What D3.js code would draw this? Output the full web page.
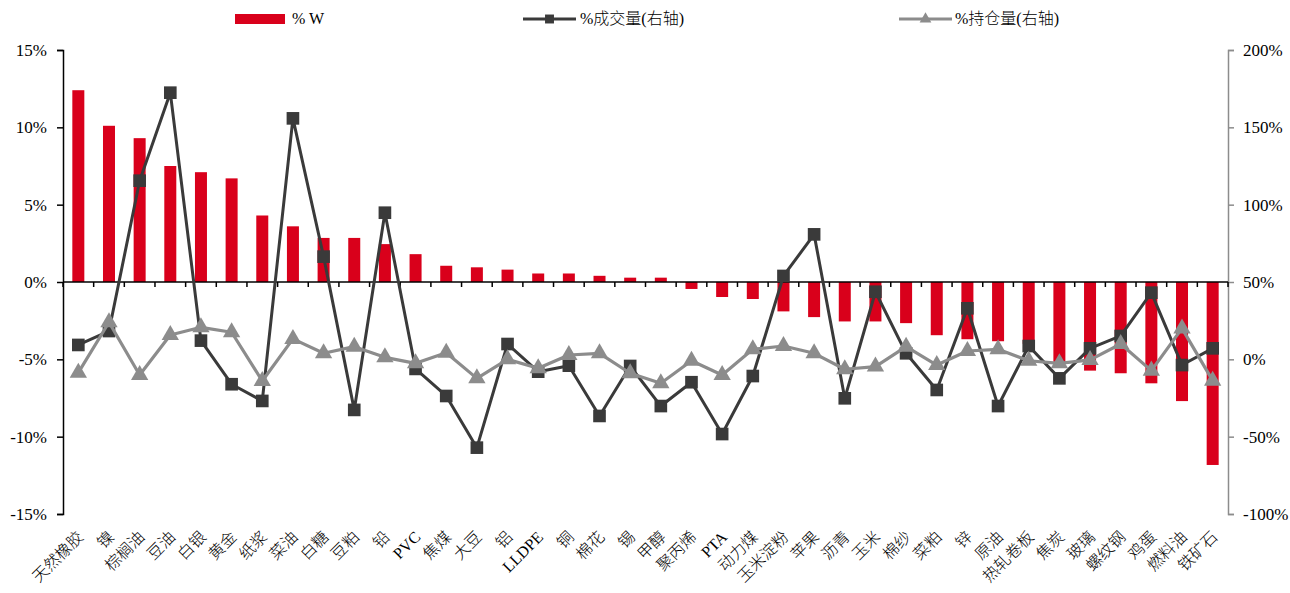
<!DOCTYPE html>
<html>
<head>
<meta charset="utf-8">
<script src="https://cdn.jsdelivr.net/npm/d3@7"></script>
<style>
  html, body { margin: 0; padding: 0; background: #fff; }
  svg { display: block; }
  text { font-family: "Liberation Serif", "Noto Sans CJK SC", serif; fill: #000; }
</style>
</head>
<body>
<svg id="chart" width="1290" height="593"></svg>
<script>
// Commodity names along the x axis
const categories = ["天然橡胶","镍","棕榈油","豆油","白银","黄金","纸浆","菜油","白糖","豆粕","铅","PVC","焦煤","大豆","铝","LLDPE","铜","棉花","锡","甲醇","聚丙烯","PTA","动力煤","玉米淀粉","苹果","沥青","玉米","棉纱","菜粕","锌","原油","热轧卷板","焦炭","玻璃","螺纹钢","鸡蛋","燃料油","铁矿石"];

// %W (left axis, percent)
const weightChange = [12.4,10.1,9.3,7.5,7.1,6.7,4.3,3.6,2.85,2.85,2.45,1.8,1.05,0.95,0.8,0.55,0.55,0.4,0.28,0.28,-0.45,-0.97,-1.1,-1.9,-2.27,-2.55,-2.55,-2.66,-3.44,-3.7,-3.83,-4.0,-5.2,-5.73,-5.9,-6.55,-7.7,-11.83];

// %成交量 (right axis, percent)
const volumeChange = [9.3,18.3,115.5,172.4,12.1,-16.1,-26.9,155.8,66.4,-32.7,94.8,-6.2,-23.7,-57.1,9.9,-8,-4.1,-36.6,-4.3,-30.2,-14.8,-48.3,-10.8,53.9,80.8,-25.2,43.7,3.9,-19.8,33,-30.2,8.6,-12.3,7.1,15.1,43.1,-3.7,7.1];

// %持仓量 (right axis, percent)
const openInterestChange = [-8.6,24,-10.1,15.7,20.7,17.5,-14,13.2,3.9,8.2,1.3,-2.6,4.3,-12.3,0,-5.8,2.8,3.9,-9,-15.5,-0.9,-10.1,6.5,8.6,3.9,-6.4,-4.7,8.2,-3.7,5.4,6.5,-0.9,-2.6,-0.4,9.9,-7.3,20,-13.8];

// Axis ticks
const leftTicks = [-15,-10,-5,0,5,10,15];
const rightTicks = [-100,-50,0,50,100,150,200];

// Legend entries
const legendLabels = ["% W","%成交量(右轴)","%持仓量(右轴)"];

const svg = d3.select("#chart");
const plotLeft = 63, plotRight = 1228, plotTop = 50, plotBottom = 514;

const x = d3.scalePoint().domain(categories).range([plotLeft, plotRight]).padding(0.5);
const step = x.step();
const yL = d3.scaleLinear().domain([-15, 15]).range([plotBottom, plotTop]);
const yR = d3.scaleLinear().domain([-100, 200]).range([plotBottom, plotTop]);

const barColor = "#d9001b";
const volColor = "#3a3a3a";
const oiColor = "#8c8c8c";

// Bars
const barW = 12;
svg.append("g").selectAll("rect")
  .data(categories)
  .join("rect")
  .attr("x", d => x(d) - barW / 2)
  .attr("width", barW)
  .attr("y", (d, i) => yL(Math.max(0, weightChange[i])))
  .attr("height", (d, i) => Math.abs(yL(weightChange[i]) - yL(0)))
  .attr("fill", barColor);

// Left axis
const leftAxis = svg.append("g").attr("transform", `translate(${plotLeft},0)`)
  .call(d3.axisLeft(yL).tickValues(leftTicks).tickSize(6).tickPadding(10).tickFormat(d => d + "%"));
leftAxis.select(".domain").attr("stroke", "#000").attr("stroke-width", 1.5);
leftAxis.selectAll(".tick line").attr("stroke", "#000").attr("stroke-width", 1.5);
leftAxis.selectAll(".tick text").attr("font-size", 17).attr("font-family", "Liberation Serif");

// Right axis
const rightAxis = svg.append("g").attr("transform", `translate(${plotRight},0)`)
  .call(d3.axisRight(yR).tickValues(rightTicks).tickSize(6).tickPadding(9).tickFormat(d => d + "%"));
rightAxis.select(".domain").attr("stroke", "#8c8c8c").attr("stroke-width", 1.5);
rightAxis.selectAll(".tick line").attr("stroke", "#8c8c8c").attr("stroke-width", 1.5);
rightAxis.selectAll(".tick text").attr("font-size", 17).attr("font-family", "Liberation Serif");

// Zero baseline with ticks between categories
const zeroY = yL(0);
svg.append("line").attr("x1", plotLeft).attr("x2", plotRight).attr("y1", zeroY).attr("y2", zeroY)
  .attr("stroke", "#000").attr("stroke-width", 1.5);
svg.append("g").selectAll("line")
  .data(d3.range(categories.length + 1))
  .join("line")
  .attr("x1", i => plotLeft + i * step).attr("x2", i => plotLeft + i * step)
  .attr("y1", zeroY).attr("y2", zeroY + 5)
  .attr("stroke", "#000").attr("stroke-width", 1.5);

// Category labels, rotated
svg.append("g").selectAll("text")
  .data(categories)
  .join("text")
  .attr("transform", d => `translate(${x(d) + 6},${plotBottom + 24}) rotate(-45)`)
  .attr("text-anchor", "end")
  .attr("font-size", 16)
  .attr("font-weight", 300)
  .text(d => d);

// Lines
const lineGen = (vals) => d3.line()
  .x((d, i) => x(categories[i]))
  .y(d => yR(d))(vals);

const square = d3.symbol().type(d3.symbolSquare).size(160);
const tri = d3.symbol().type(d3.symbolTriangle).size(130);

// 成交量
svg.append("path").attr("d", lineGen(volumeChange))
  .attr("fill", "none").attr("stroke", volColor).attr("stroke-width", 3).attr("stroke-linejoin", "round");
svg.append("g").selectAll("path")
  .data(volumeChange)
  .join("path")
  .attr("transform", (d, i) => `translate(${x(categories[i])},${yR(d)})`)
  .attr("d", square)
  .attr("fill", volColor);

// 持仓量
svg.append("path").attr("d", lineGen(openInterestChange))
  .attr("fill", "none").attr("stroke", oiColor).attr("stroke-width", 3.2).attr("stroke-linejoin", "round");
svg.append("g").selectAll("path")
  .data(openInterestChange)
  .join("path")
  .attr("transform", (d, i) => `translate(${x(categories[i])},${yR(d)})`)
  .attr("d", tri)
  .attr("fill", oiColor);

// Legend
const lg = svg.append("g").attr("font-weight", 300);
lg.append("rect").attr("x", 235).attr("y", 14).attr("width", 50).attr("height", 10).attr("fill", barColor);
lg.append("text").attr("x", 292).attr("y", 24).attr("font-size", 16).text(legendLabels[0]);

lg.append("line").attr("x1", 523).attr("x2", 576).attr("y1", 19).attr("y2", 19)
  .attr("stroke", volColor).attr("stroke-width", 3);
lg.append("path").attr("transform", "translate(549.5,19)").attr("d", d3.symbol().type(d3.symbolSquare).size(80)).attr("fill", volColor);
lg.append("text").attr("x", 580).attr("y", 24).attr("font-size", 16).text(legendLabels[1]);

lg.append("line").attr("x1", 899).attr("x2", 952).attr("y1", 19).attr("y2", 19)
  .attr("stroke", oiColor).attr("stroke-width", 3);
lg.append("path").attr("transform", "translate(925.5,19)").attr("d", d3.symbol().type(d3.symbolTriangle).size(60)).attr("fill", oiColor);
lg.append("text").attr("x", 955).attr("y", 24).attr("font-size", 16).text(legendLabels[2]);
</script>
</body>
</html>
